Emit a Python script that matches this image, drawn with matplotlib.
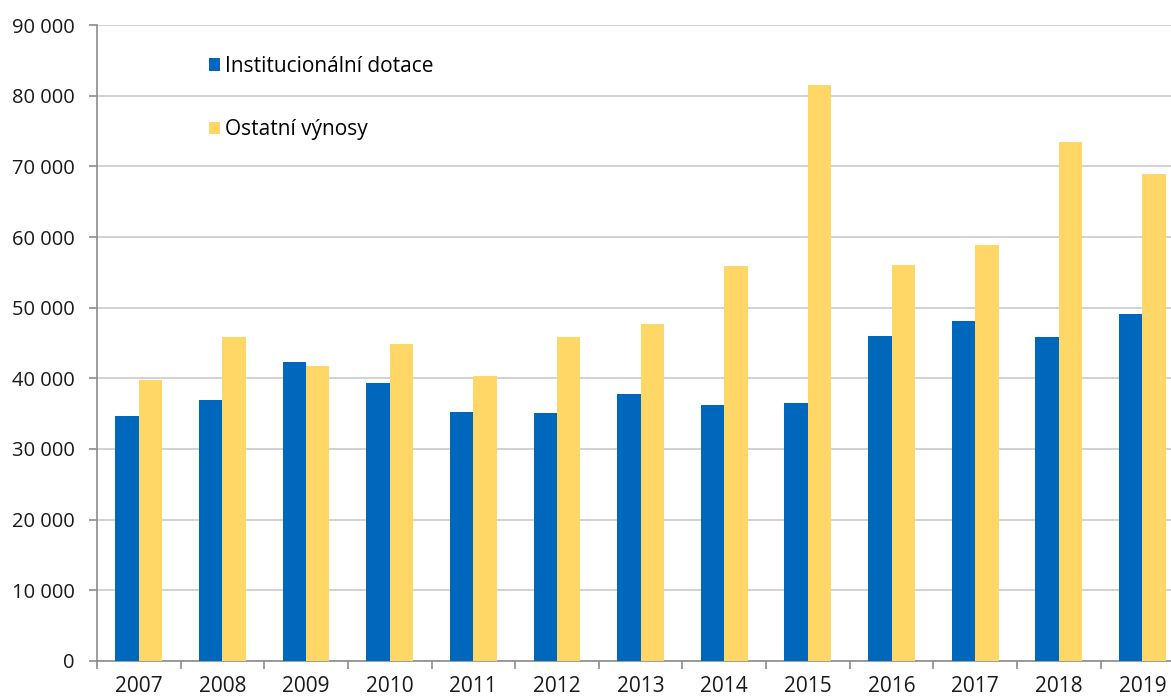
import matplotlib
matplotlib.use('Agg')
import matplotlib.pyplot as plt
import matplotlib.ticker as mticker
import numpy as np

plt.rcParams['font.family'] = ['Open Sans', 'DejaVu Sans']

years = ['2007', '2008', '2009', '2010', '2011', '2012', '2013',
         '2014', '2015', '2016', '2017', '2018', '2019']
inst_dotace = [34700, 36900, 42300, 39300, 35200, 35100, 37800,
               36200, 36500, 46000, 48100, 45900, 49100]
ostatni = [39700, 45800, 41700, 44800, 40400, 45900, 47700,
           55900, 81500, 56000, 58900, 73400, 68900]

blue = '#0068BC'
yellow = '#FFD766'

fig = plt.figure(figsize=(11.71, 6.99), dpi=100)
# right edge of the axes runs past the figure, like the cropped original
ax = fig.add_axes([0.0828, 0.0544, 0.9285, 0.9098])

x = np.arange(len(years))
w = 0.28
ax.bar(x - w/2, inst_dotace, width=w, color=blue, label='Institucionální dotace', zorder=3)
ax.bar(x + w/2, ostatni, width=w, color=yellow, label='Ostatní výnosy', zorder=3)

ax.set_xlim(-0.5, len(years) - 0.5)
ax.set_ylim(0, 90000)
ax.set_yticks(np.arange(0, 90001, 10000))
ax.yaxis.set_major_formatter(mticker.FuncFormatter(
    lambda v, p: f'{int(v):,}'.replace(',', ' ')))

ax.set_xticks(x)
ax.set_xticklabels(years)
ax.set_xticks(np.arange(-0.5, len(years), 1), minor=True)
ax.tick_params(axis='x', which='major', length=0, pad=11, labelsize=15, colors='#1a1a1a')
ax.tick_params(axis='x', which='minor', length=6, width=1.2, color='#8c8c8c')
ax.tick_params(axis='y', length=6, width=1.2, color='#8c8c8c', pad=10,
               labelsize=14.5, labelcolor='#1a1a1a')

ax.grid(axis='y', color='#cfcfcf', lw=1.3, zorder=0)
for s in ['top', 'right']:
    ax.spines[s].set_visible(False)
for s in ['left', 'bottom']:
    ax.spines[s].set_color('#8c8c8c')
    ax.spines[s].set_linewidth(1.2)

ax.legend(loc='upper left', bbox_to_anchor=(0.095, 0.965), frameon=False,
          fontsize=15, handlelength=0.55, handleheight=0.55, handletextpad=0.25,
          labelspacing=2.05, borderaxespad=0)

fig.savefig('out.png', dpi=100)
